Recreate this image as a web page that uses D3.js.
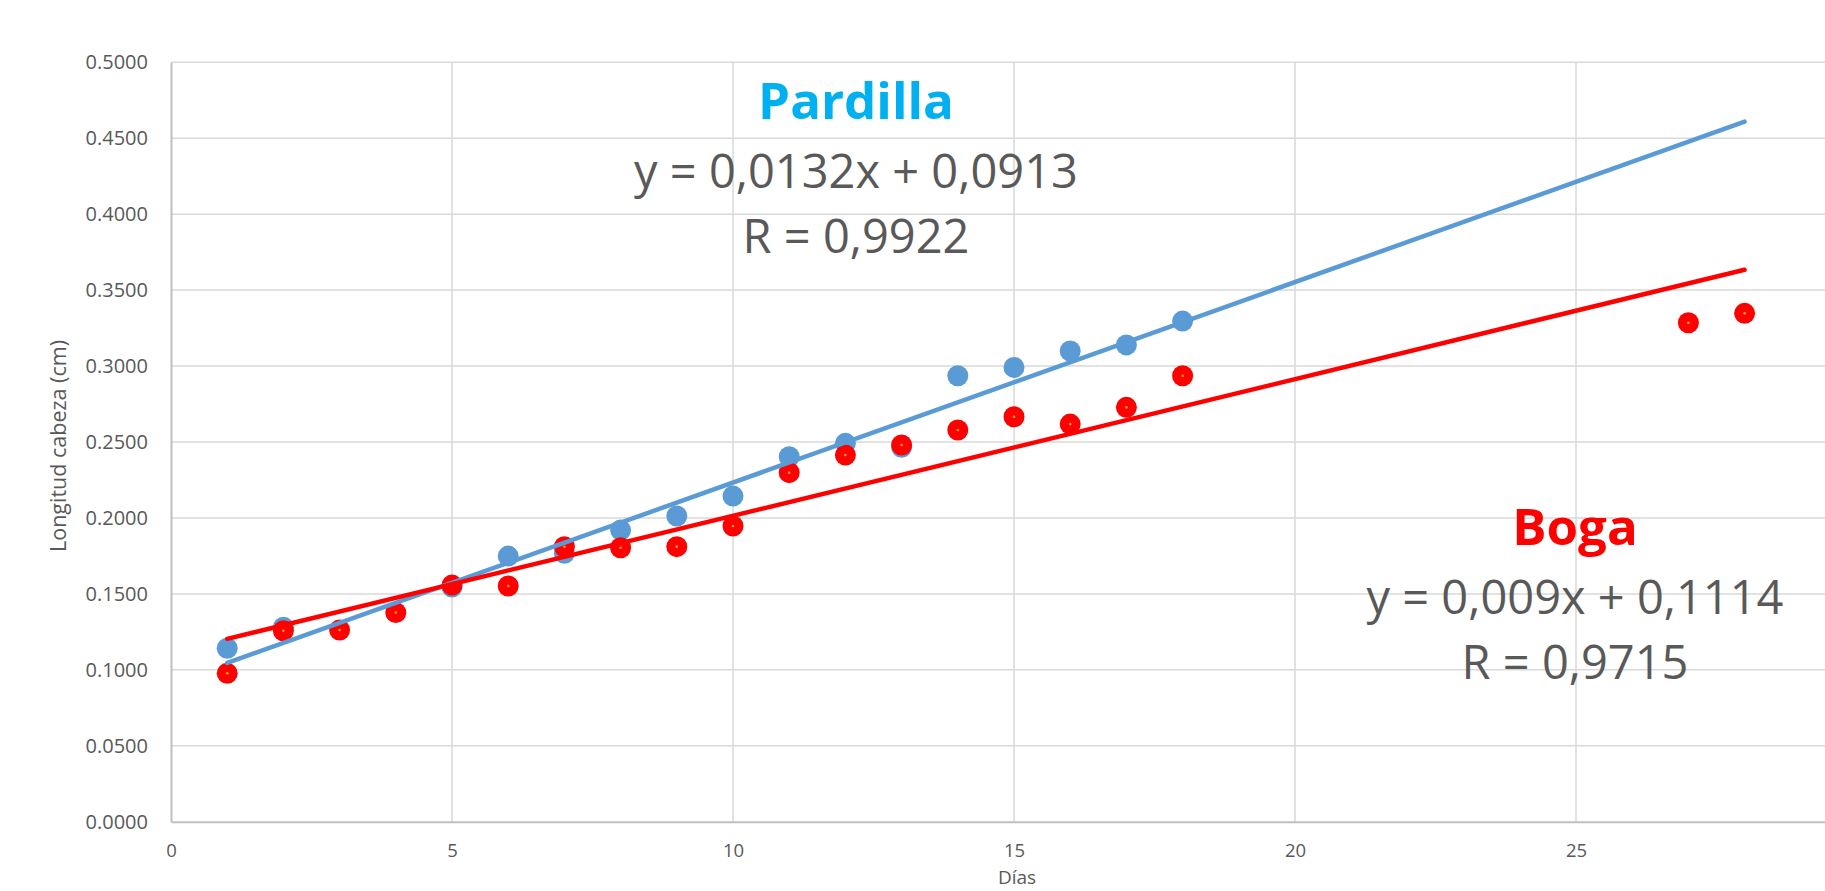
<!DOCTYPE html>
<html>
<head>
<meta charset="utf-8">
<script src="https://cdn.jsdelivr.net/npm/d3@7"></script>
<style>
  html, body { margin: 0; padding: 0; background: #fff; overflow: hidden; }
  svg { display: block; font-family: "Open Sans", "Noto Sans", sans-serif; }
</style>
</head>
<body>
<svg id="chart" width="1825" height="891"></svg>
<script>
// ---- Data ----
const xTicks = [0, 5, 10, 15, 20, 25, 30];
const yTicks = [0, 0.05, 0.1, 0.15, 0.2, 0.25, 0.3, 0.35, 0.4, 0.45, 0.5];

const pardillaDays = [1, 2, 5, 6, 7, 8, 9, 10, 11, 12, 13, 14, 15, 16, 17, 18];
const pardillaValues = [0.1142, 0.1280, 0.1545, 0.1749, 0.1767, 0.1920, 0.2013, 0.2144,
                        0.2403, 0.2491, 0.2465, 0.2936, 0.2991, 0.3099, 0.3139, 0.3296];

const bogaDays = [1, 2, 3, 4, 5, 6, 7, 8, 9, 10, 11, 12, 13, 14, 15, 16, 17, 18, 27, 28];
const bogaValues = [0.0977, 0.1257, 0.1262, 0.1377, 0.1558, 0.1552, 0.1810, 0.1804, 0.1811, 0.1947,
                    0.2298, 0.2414, 0.2480, 0.2579, 0.2666, 0.2618, 0.2728, 0.2936, 0.3285, 0.3347];

const trendNames = ["Pardilla", "Boga"];
const trendSlopes = [0.0132, 0.009];
const trendIntercepts = [0.0913, 0.1114];
const trendRange = [1, 28];
const trendEquations = ["y = 0,0132x + 0,0913", "y = 0,009x + 0,1114"];
const trendR = ["R = 0,9922", "R = 0,9715"];

const xTitle = "Días";
const yTitle = "Longitud cabeza (cm)";

// ---- Layout ----
const svg = d3.select("#chart");
const pLeft = 171, pRight = 1857, pTop = 62.3, pBottom = 821.7;
const x = d3.scaleLinear().domain([0, 30]).range([pLeft, pRight]);
const y = d3.scaleLinear().domain([0, 0.5]).range([pBottom, pTop]);

const gridColor = "#d9d9d9";
const textColor = "#595959";
const blue = "#5b9bd5";
const red = "#ff0000";

// gridlines
svg.append("g").selectAll("line").data(yTicks.filter(d => d > 0)).join("line")
  .attr("x1", pLeft).attr("x2", pRight)
  .attr("y1", d => y(d)).attr("y2", d => y(d))
  .attr("stroke", gridColor).attr("stroke-width", 1.5);
svg.append("g").selectAll("line").data(xTicks.filter(d => d > 0)).join("line")
  .attr("x1", d => x(d)).attr("x2", d => x(d))
  .attr("y1", pTop).attr("y2", pBottom)
  .attr("stroke", gridColor).attr("stroke-width", 1.5);

// axes
const xAxis = d3.axisBottom(x).tickValues(xTicks.filter(d => d < 30)).tickSize(0).tickPadding(22)
  .tickFormat(d3.format("d"));
const gx = svg.append("g").attr("transform", `translate(0,${pBottom})`).call(xAxis);
gx.select(".domain").attr("stroke", "#bfbfbf").attr("stroke-width", 2);
gx.selectAll("text").attr("fill", textColor).attr("font-size", 18.5)
  .attr("font-family", "'Open Sans', sans-serif");

const yAxis = d3.axisLeft(y).tickValues(yTicks).tickSize(0).tickPadding(23)
  .tickFormat(d3.format(".4f"));
const gy = svg.append("g").attr("transform", `translate(${pLeft},0)`).call(yAxis);
gy.select(".domain").attr("stroke", "#bfbfbf").attr("stroke-width", 2);
gy.selectAll("text").attr("fill", textColor).attr("font-size", 20)
  .attr("font-family", "'Open Sans', sans-serif");

// axis titles
svg.append("text").attr("x", 1017).attr("y", 884).attr("text-anchor", "middle")
  .attr("fill", textColor).attr("font-size", 19).text(xTitle);
svg.append("text").attr("transform", `translate(66,446) rotate(-90)`)
  .attr("text-anchor", "middle").attr("fill", textColor).attr("font-size", 21.5).text(yTitle);

// markers
svg.append("g").selectAll("circle").data(pardillaDays.map((d, i) => [d, pardillaValues[i]])).join("circle")
  .attr("cx", d => x(d[0])).attr("cy", d => y(d[1])).attr("r", 10.5).attr("fill", blue);
const bogaPts = bogaDays.map((d, i) => [d, bogaValues[i]]);
svg.append("g").selectAll("circle").data(bogaPts).join("circle")
  .attr("cx", d => x(d[0])).attr("cy", d => y(d[1])).attr("r", 10.5).attr("fill", red);
svg.append("g").selectAll("circle").data(bogaPts).join("circle")
  .attr("cx", d => x(d[0])).attr("cy", d => y(d[1])).attr("r", 1.3).attr("fill", "#ffa500");

// trendlines
const trendColors = [blue, red];
trendSlopes.forEach((m, i) => {
  const pts = trendRange.map(t => [t, m * t + trendIntercepts[i]]);
  svg.append("path")
    .attr("d", d3.line().x(d => x(d[0])).y(d => y(d[1]))(pts))
    .attr("stroke", trendColors[i]).attr("stroke-width", 4.5)
    .attr("stroke-linecap", "round").attr("fill", "none");
});

// annotations
const annX = [856, 1575];
const annTitleY = [119, 545];
const titleColors = ["#00b0f0", "#ff0000"];
trendNames.forEach((n, i) => {
  svg.append("text").attr("x", annX[i]).attr("y", annTitleY[i]).attr("text-anchor", "middle")
    .attr("font-weight", "bold").attr("font-size", 51).attr("fill", titleColors[i]).text(n);
  svg.append("text").attr("x", annX[i]).attr("y", annTitleY[i] + 69).attr("text-anchor", "middle")
    .attr("font-size", 47).attr("fill", textColor).text(trendEquations[i]);
  svg.append("text").attr("x", annX[i]).attr("y", annTitleY[i] + 134).attr("text-anchor", "middle")
    .attr("font-size", 47).attr("fill", textColor).text(trendR[i]);
});
</script>
</body>
</html>
